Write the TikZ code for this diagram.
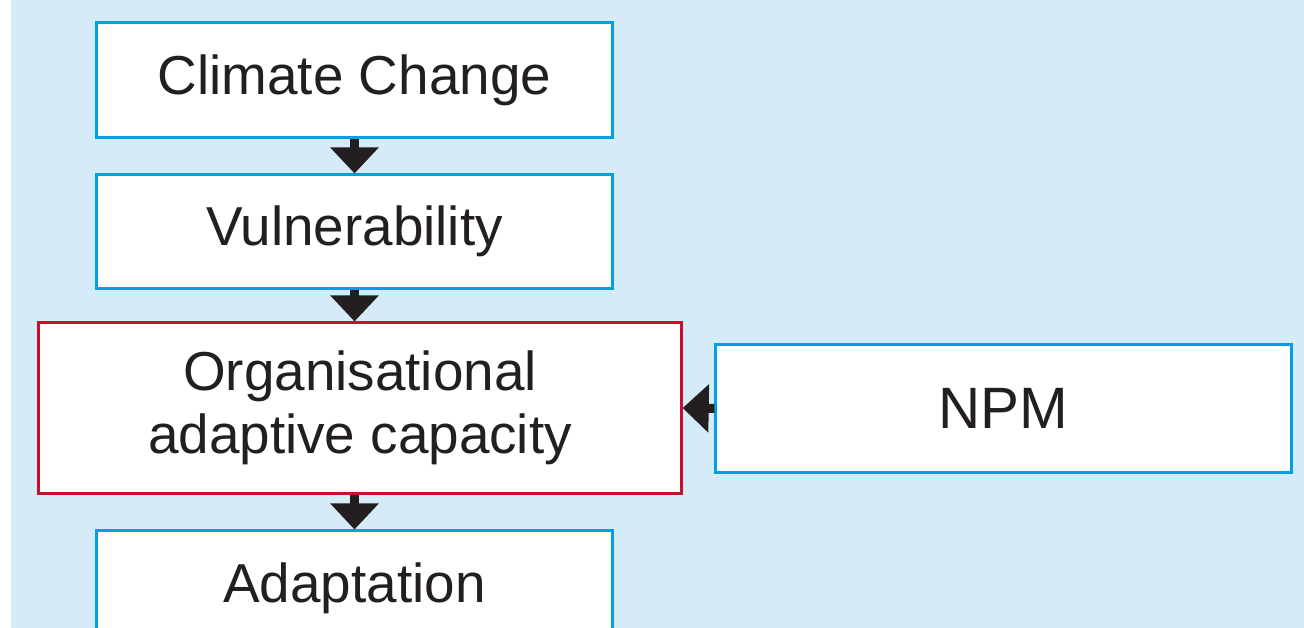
\documentclass[tikz,border=0pt]{standalone}
\usepackage{fontspec}
\setmainfont{Liberation Sans}
\usetikzlibrary{arrows.meta}

\definecolor{bgblue}{RGB}{214,235,248}
\definecolor{boxblue}{RGB}{0,160,226}
\definecolor{boxred}{RGB}{200,16,46}
\definecolor{ink}{RGB}{35,31,32}

\begin{document}
\begin{tikzpicture}[x=0.01cm, y=-0.01cm,
    box/.style={draw=boxblue, line width=0.03cm, fill=white, inner sep=0pt, align=center, text=ink, font=\fontsize{15.6}{17.9}\selectfont},
    flow/.style={draw=ink, line width=0.09cm, -{Triangle[width=0.47cm, length=0.26cm, fill=ink]}}]
    \clip (0,0) rectangle (1304,628);
    \fill[bgblue] (11,0) rectangle (1304,628);

    \node[box, minimum width=5.15cm, minimum height=1.14cm] (clim) at (354.5,80) {Climate Change};
    \node[box, minimum width=5.15cm, minimum height=1.13cm] (vuln) at (354.5,231.5) {Vulnerability};
    \node[box, draw=boxred, minimum width=6.42cm, minimum height=1.70cm] (orgcap) at (360,408) {Organisational\\adaptive capacity};
    \node[box, minimum width=5.75cm, minimum height=1.27cm, font=\fontsize{16.6}{19}\selectfont] (npm) at (1003.5,408.5) {NPM};
    \node[box, minimum width=5.15cm, minimum height=1.14cm] (adapt) at (354.5,588) {Adaptation};

    \draw[flow] (clim.south) -- (vuln.north);
    \draw[flow] (vuln.south) -- (vuln.south |- orgcap.north);
    \draw[flow] (adapt.north |- orgcap.south) -- (adapt.north);
    \draw[flow] (npm.west) -- (orgcap.east);
\end{tikzpicture}
\end{document}
